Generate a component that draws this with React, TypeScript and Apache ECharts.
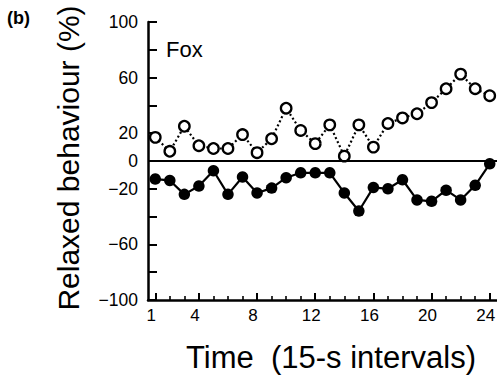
import React, { useEffect, useRef } from 'react';
import * as echarts from 'echarts';

const intervals = [1, 2, 3, 4, 5, 6, 7, 8, 9, 10, 11, 12, 13, 14, 15, 16, 17, 18, 19, 20, 21, 22, 23, 24];
const openValues = [17, 7, 25, 11, 9, 9, 19, 6, 16, 38, 22, 12.5, 26, 3.5, 26, 10, 27, 31, 34, 42, 52, 62.5, 52, 47];
const filledValues = [-13, -14, -24, -18, -7, -24, -11.5, -23, -19.5, -12, -8.5, -8.5, -8.5, -23, -36, -19, -20, -13.5, -28, -29, -21, -28, -17.5, -2];
const xLabelValues = [1, 4, 8, 12, 16, 20, 24];
const yLabelValues = [-100, -60, -20, 0, 20, 60, 100];

const FONT = "'Liberation Sans', Arial, Helvetica, sans-serif";

export default function App() {
  const ref = useRef<HTMLDivElement>(null);
  useEffect(() => {
    const chart = echarts.init(ref.current as HTMLDivElement, null, { renderer: 'svg' });
    const fmt = (v: number) => (v < 0 ? '\u2212' + Math.abs(v) : String(v));
    chart.setOption({
      animation: false,
      backgroundColor: '#fff',
      grid: { left: 148, right: 0, top: 22, bottom: 78, outerBoundsMode: 'none', containLabel: false },
      xAxis: [
        {
          type: 'value', min: 0.5, max: 24.5, position: 'bottom',
          axisLine: { onZero: false, lineStyle: { color: '#000', width: 2.5 } },
          axisTick: { inside: true, length: 7, customValues: xLabelValues, lineStyle: { color: '#000', width: 2 } },
          axisLabel: { customValues: xLabelValues, color: '#000', fontSize: 17, fontFamily: FONT, margin: 7, padding: [0, 8, 0, 0] },
          splitLine: { show: false },
        },
        {
          type: 'value', min: 0.5, max: 24.5, position: 'bottom',
          axisLine: { show: false, onZero: false },
          axisTick: { inside: true, length: 4, customValues: intervals, lineStyle: { color: '#000', width: 1.6 } },
          axisLabel: { show: false },
          splitLine: { show: false },
        },
      ],
      yAxis: {
        type: 'value', min: -100, max: 100, interval: 20,
        axisLine: { show: true, onZero: false, lineStyle: { color: '#000', width: 2.5 } },
        axisTick: { show: true, inside: true, length: 9, lineStyle: { color: '#000', width: 2 } },
        axisLabel: {
          color: '#000', fontSize: 17.5, fontFamily: FONT, margin: 10,
          formatter: (v: number) => (yLabelValues.includes(v) ? fmt(v) : ''),
        },
        splitLine: { show: false },
      },
      series: [
        {
          type: 'line', xAxisIndex: 0, z: 3,
          data: intervals.map((x, i) => [x, filledValues[i]]),
          symbol: 'circle', symbolSize: 11.5,
          itemStyle: { color: '#000' },
          lineStyle: { color: '#000', width: 2.2 },
          markLine: {
            silent: true, symbol: ['none', 'none'], label: { show: false },
            lineStyle: { color: '#000', width: 2, type: 'solid' },
            data: [{ yAxis: 0 }],
          },
        },
        {
          type: 'line', xAxisIndex: 0, z: 4,
          data: intervals.map((x, i) => [x, openValues[i]]),
          symbol: 'circle', symbolSize: 10.5,
          itemStyle: { color: '#fff', borderColor: '#000', borderWidth: 2.3 },
          lineStyle: { color: '#000', width: 2.2, type: [2, 2.5] },
        },
      ],
      graphic: [
        { type: 'text', x: 7, y: 18, style: { text: '(b)', font: `bold 18px ${FONT}`, fill: '#000', textVerticalAlign: 'middle' } },
        { type: 'text', x: 166, y: 49.5, style: { text: 'Fox', font: `22px ${FONT}`, fill: '#000', textVerticalAlign: 'middle' } },
        { type: 'text', x: 68, y: 158, rotation: Math.PI / 2, style: { text: 'Relaxed behaviour (%)', font: `30px ${FONT}`, fill: '#000', textAlign: 'center', textVerticalAlign: 'middle' } },
        { type: 'text', x: 331, y: 357, style: { text: 'Time  (15-s intervals)', font: `31px ${FONT}`, fill: '#000', textAlign: 'center', textVerticalAlign: 'middle' } },
      ],
    });
    return () => chart.dispose();
  }, []);
  return <div ref={ref} style={{ position: 'fixed', left: 0, top: 0, width: 497, height: 378 }} />;
}
